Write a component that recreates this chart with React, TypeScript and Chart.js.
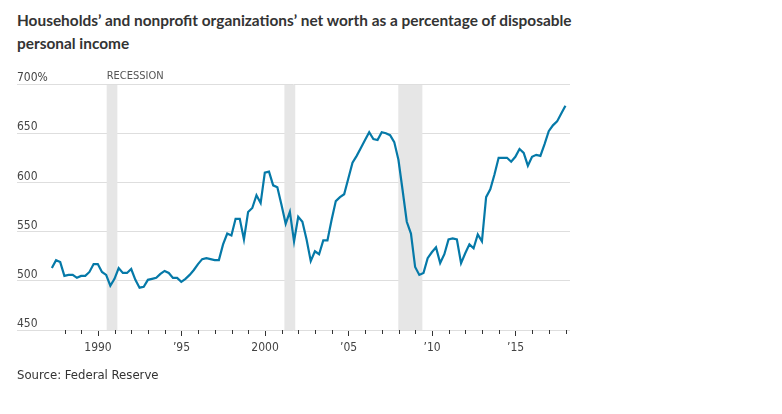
import React, { useEffect, useRef } from 'react';
import { Chart, registerables } from 'chart.js';

Chart.register(...registerables);

// Quarterly data, 1987 Q1 – 2017 Q4 (percent of disposable personal income)
const startYear = 1987;
const netWorthPct: number[] = [
  513, 521, 519, 505, // 1987
  506, 506, 503, 505, // 1988
  505, 509, 517, 517, // 1989
  509, 506, 495, 502, // 1990
  513, 508, 508, 512, // 1991
  501, 493, 494, 501, // 1992
  502, 503, 507, 510, // 1993
  508, 503, 503, 499, // 1994
  502, 506, 511, 517, // 1995
  522, 523, 522, 521, // 1996
  521, 537, 548, 546, // 1997
  563, 563, 542, 570, // 1998
  574, 587, 579, 610, // 1999
  611, 597, 595, 577, // 2000
  558, 570, 540, 565, // 2001
  560, 542, 520, 530, // 2002
  527, 541, 541, 562, // 2003
  581, 585, 588, 604, // 2004
  620, 627, 635, 643, // 2005
  651, 644, 643, 651, // 2006
  650, 648, 641, 623, // 2007
  592, 560, 548, 514, // 2008
  506, 508, 523, 529, // 2009
  534, 518, 527, 542, // 2010
  543, 542, 518, 528, // 2011
  537, 533, 547, 540, // 2012
  585, 593, 608, 625, // 2013
  625, 625, 621, 626, // 2014
  634, 630, 617, 626, // 2015
  628, 627, 639, 652, // 2016
  658, 662, 670, 678, // 2017
];

const recessionStarts: number[] = [1990.52, 2001.16, 2007.98];
const recessionEnds: number[] = [1991.16, 2001.81, 2009.42];

const yTickValues: number[] = [450, 500, 550, 600, 650, 700];
const xMajorTickYears: number[] = [1990, 1995, 2000, 2005, 2010, 2015];
const xMajorTickLabels: string[] = ['1990', '\u201995', '2000', '\u201905', '\u201910', '\u201915'];
const xMinorTickYears: number[] = [
  1988, 1989, 1991, 1992, 1993, 1994, 1996, 1997, 1998, 1999, 2001, 2002, 2003, 2004,
  2006, 2007, 2008, 2009, 2011, 2012, 2013, 2014, 2016, 2017, 2018,
];

const FONT = '"DejaVu Sans Condensed", "Roboto", sans-serif';
const TITLE_FONT = 'Lato, "DejaVu Sans Condensed", sans-serif';

const recessionPlugin = {
  id: 'recessionBands',
  beforeDatasetsDraw(chart: any) {
    const { ctx, scales } = chart;
    const x = scales.x;
    const y = scales.y;
    const top = y.getPixelForValue(yTickValues[yTickValues.length - 1]);
    const bottom = y.getPixelForValue(yTickValues[0]);
    ctx.save();
    ctx.fillStyle = '#e6e6e6';
    recessionStarts.forEach((s, k) => {
      const x0 = x.getPixelForValue(s);
      const x1 = x.getPixelForValue(recessionEnds[k]);
      ctx.fillRect(x0, top + 1, x1 - x0, bottom - top - 1);
    });
    ctx.fillStyle = '#555';
    ctx.font = '11px ' + FONT;
    ctx.textAlign = 'left';
    ctx.textBaseline = 'middle';
    ctx.fillText('RECESSION', x.getPixelForValue(recessionStarts[0]), top - 8);
    ctx.restore();
  },
  afterDraw(chart: any) {
    const { ctx, scales } = chart;
    const x = scales.x;
    const bottom = scales.y.getPixelForValue(yTickValues[0]);
    ctx.save();
    ctx.strokeStyle = '#333';
    ctx.lineWidth = 1;
    ctx.beginPath();
    xMinorTickYears.forEach((yr) => {
      const px = Math.round(x.getPixelForValue(yr)) + 0.5;
      ctx.moveTo(px, bottom);
      ctx.lineTo(px, bottom + 4);
    });
    ctx.stroke();
    ctx.restore();
  },
};

export default function App() {
  const canvasRef = useRef<HTMLCanvasElement | null>(null);

  useEffect(() => {
    if (!canvasRef.current) return;
    const points = netWorthPct.map((v, i) => ({ x: startYear + (i + 0.95) / 4, y: v }));
    const chart = new Chart(canvasRef.current, {
      type: 'line',
      data: {
        datasets: [
          {
            data: points,
            borderColor: '#0579a8',
            borderWidth: 2.2,
            pointRadius: 0,
            tension: 0,
            fill: false,
          },
        ],
      },
      plugins: [recessionPlugin],
      options: {
        animation: false,
        responsive: true,
        maintainAspectRatio: false,
        layout: { padding: { left: 17, right: 212, top: 84, bottom: 54 } },
        plugins: {
          legend: { display: false },
          tooltip: { enabled: false },
          title: { display: false },
        },
        scales: {
          x: {
            type: 'linear',
            min: 1985.15,
            max: 2018.26,
            afterBuildTicks: (scale: any) => {
              scale.ticks = xMajorTickYears.map((v) => ({ value: v }));
            },
            afterFit: (scale: any) => {
              scale.height = 30;
            },
            border: { display: false },
            grid: {
              drawOnChartArea: false,
              drawTicks: true,
              tickLength: 6,
              color: '#333',
              lineWidth: 1,
            },
            ticks: {
              autoSkip: false,
              maxRotation: 0,
              padding: 5,
              color: '#444',
              font: { family: FONT, size: 12 },
              callback: (value: any) => {
                const idx = xMajorTickYears.indexOf(Number(value));
                return idx >= 0 ? xMajorTickLabels[idx] : '';
              },
            },
          },
          y: {
            type: 'linear',
            position: 'left',
            min: 450,
            max: 700,
            afterBuildTicks: (scale: any) => {
              scale.ticks = yTickValues.map((v) => ({ value: v }));
            },
            afterFit: (scale: any) => {
              scale.width = 0;
            },
            border: { display: false },
            grid: {
              color: '#dedede',
              lineWidth: 1,
              drawTicks: false,
            },
            ticks: {
              mirror: true,
              padding: 0,
              labelOffset: -6,
              color: '#444',
              font: { family: FONT, size: 12 },
              callback: (value: any) =>
                Number(value) === yTickValues[yTickValues.length - 1] ? value + '%' : String(value),
            },
          },
        },
      },
    });
    return () => chart.destroy();
  }, []);

  return (
    <div style={{ position: 'absolute', left: 0, top: 0, width: 782, height: 414, background: '#fff' }}>
      <div
        style={{
          position: 'absolute',
          left: 17,
          top: 9,
          fontFamily: TITLE_FONT,
          fontWeight: 'bold',
          fontSize: 15.4,
          lineHeight: '23px',
          color: '#333',
          whiteSpace: 'nowrap',
        }}
      >
        Households’ and nonprofit organizations’ net worth as a percentage of disposable
        <br />
        personal income
      </div>
      <div style={{ position: 'absolute', left: 0, top: 0, width: 782, height: 414 }}>
        <canvas ref={canvasRef} />
      </div>
      <div
        style={{
          position: 'absolute',
          left: 17,
          top: 366,
          fontFamily: FONT,
          fontSize: 13,
          lineHeight: '18px',
          color: '#333',
        }}
      >
        Source: Federal Reserve
      </div>
    </div>
  );
}
